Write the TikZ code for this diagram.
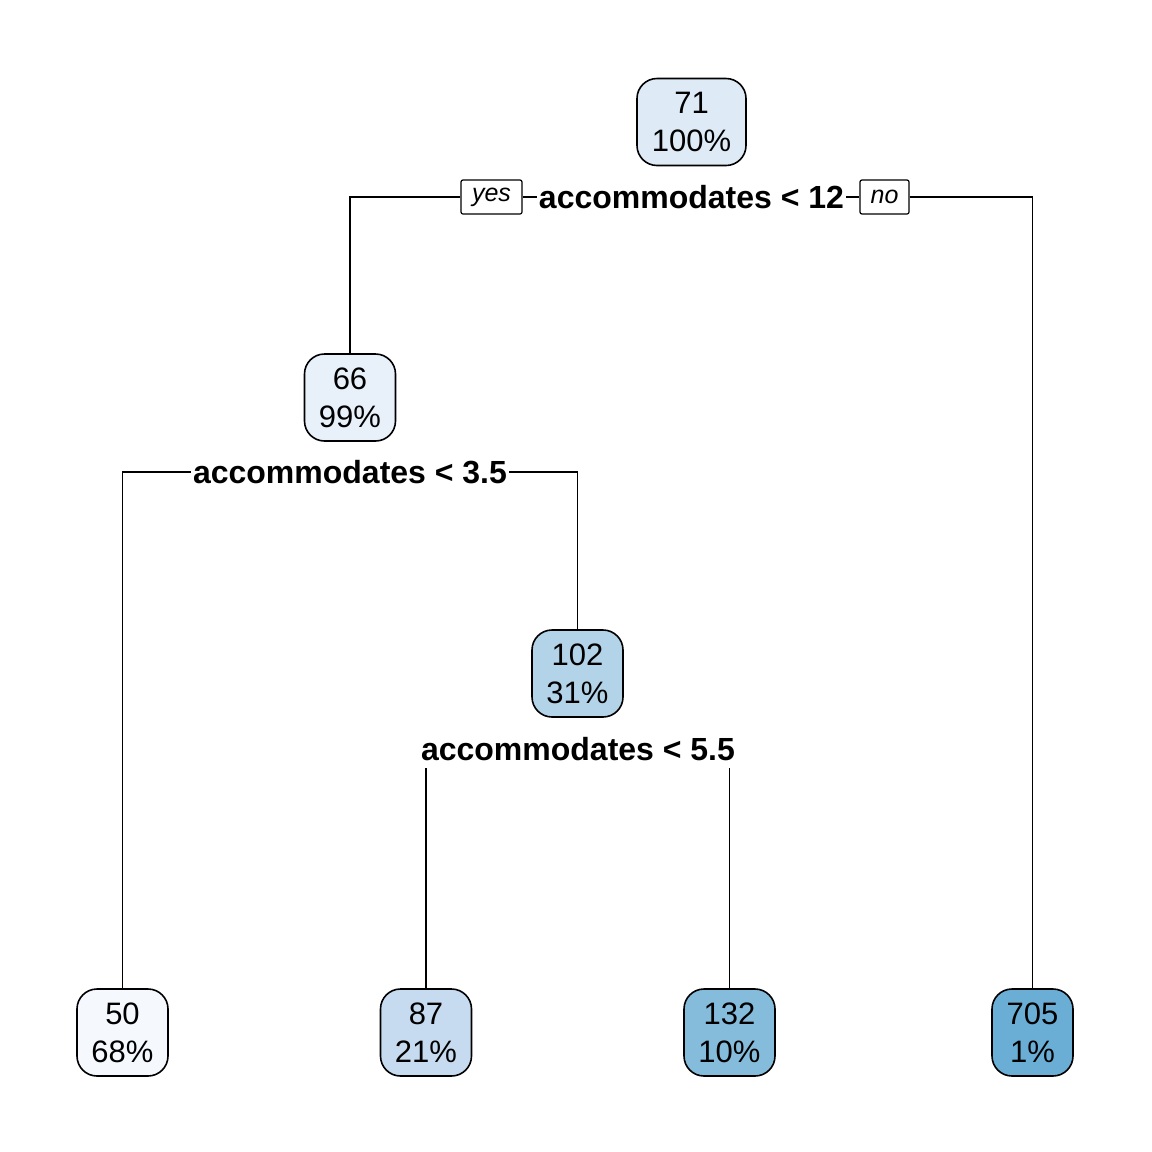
\documentclass[tikz,border=0pt]{standalone}
\usepackage{fontspec}
\setmainfont{Liberation Sans}
\usetikzlibrary{backgrounds}
\definecolor{cA}{HTML}{DEEBF7}
\definecolor{cB}{HTML}{E8F1FA}
\definecolor{cC}{HTML}{F5F9FE}
\definecolor{cD}{HTML}{C6DBEF}
\definecolor{cE}{HTML}{B3D3E8}
\definecolor{cF}{HTML}{85BCDC}
\definecolor{cG}{HTML}{6AAED6}
\tikzset{
  treenode/.style={draw=black, line width=1.6pt, rounded corners=20pt, inner sep=0pt,
    minimum width=91pt, minimum height=87pt, align=center,
    font=\fontsize{31}{38}\selectfont},
  splitlabel/.style={fill=white, inner xsep=2pt, inner ysep=0pt, minimum height=38pt,
    font=\fontsize{32}{38}\selectfont\bfseries},
  yesno/.style={draw=black, fill=white, line width=1.2pt, rounded corners=2pt, inner sep=0pt,
    minimum height=34pt, font=\fontsize{25}{30}\selectfont\itshape},
  conn/.style={draw=black, line width=1.6pt}
}
\begin{document}
\begin{tikzpicture}[x=1pt,y=-1pt]
\useasboundingbox (0,0) rectangle (1152,1152);
% tree nodes
\node[treenode, fill=cA, minimum width=109pt] (n71) at (691.5,122) {71\\100\%};
\node[treenode, fill=cB] (n66) at (350,397.5) {66\\99\%};
\node[treenode, fill=cE] (n102) at (577.5,673.5) {102\\31\%};
\node[treenode, fill=cC] (n50) at (122.5,1032.5) {50\\68\%};
\node[treenode, fill=cD] (n87) at (426,1032.5) {87\\21\%};
\node[treenode, fill=cF] (n132) at (729.5,1032.5) {132\\10\%};
\node[treenode, fill=cG, minimum width=81pt] (n705) at (1032.5,1032.5) {705\\1\%};
% split labels
\node[splitlabel] (s1) at (691.5,197) {accommodates < 12};
\node[splitlabel] (s2) at (350,472) {accommodates < 3.5};
\node[splitlabel] (s3) at (578,749) {accommodates < 5.5};
\node[yesno, minimum width=61pt] (yes) at (491.5,197) {yes};
\node[yesno, minimum width=49pt] (no) at (884.5,197) {no};
% connectors
\begin{scope}[on background layer]
\fill[white] (0,0) rectangle (1152,1152);
\draw[conn] (yes.west) -| (n66.north);
\draw[conn] (yes.east) -- (s1.west);
\draw[conn] (s1.east) -- (no.west);
\draw[conn] (no.east) -| (n705.north);
\draw[conn] (s2.west) -| (n50.north);
\draw[conn] (s2.east) -| (n102.north);
\draw[conn] (s3.center) -| (n87.north);
\draw[conn] (s3.center) -| (n132.north);
\end{scope}
\end{tikzpicture}
\end{document}
